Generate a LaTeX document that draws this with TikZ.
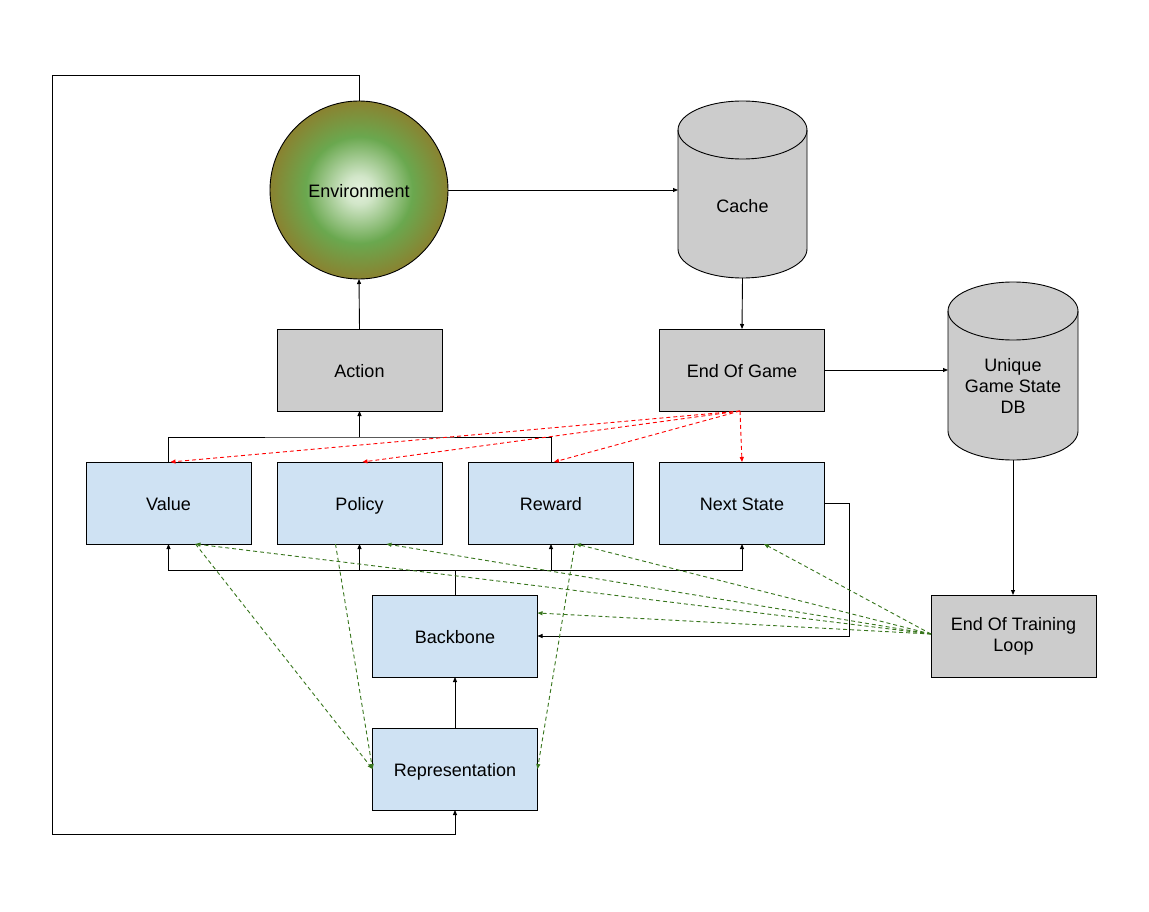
\documentclass[tikz,border=0pt]{standalone}
\usepackage{fontspec}
\setmainfont{Liberation Sans}
\usetikzlibrary{arrows.meta,calc}
\definecolor{boxblue}{HTML}{CFE2F3}
\definecolor{boxgray}{HTML}{CCCCCC}
\definecolor{dgreen}{HTML}{38761D}
\definecolor{envin}{HTML}{E4F1DE}
\definecolor{envmid}{HTML}{6AA84F}
\definecolor{envout}{HTML}{8A8230}
\pgfdeclareradialshading{envshade}{\pgfpoint{0bp}{0bp}}{color(0bp)=(envin); color(4bp)=(envin!85!envmid); color(15bp)=(envmid); color(25bp)=(envout); color(50bp)=(envout)}
\begin{document}
\begin{tikzpicture}[x=1pt,y=-1pt,
  font=\fontsize{18}{21}\selectfont,
  every node/.style={inner sep=0pt, outer sep=0pt},
  boxbase/.style={draw=black, line width=0.9pt, rectangle, minimum width=165pt, minimum height=82pt},
  oneline/.style={text height=19pt, text depth=4pt},
  bluebox/.style={boxbase, oneline, fill=boxblue},
  graybox/.style={boxbase, oneline, fill=boxgray},
  conn/.style={draw=black, line width=0.9pt},
  arr/.style={conn, -{Triangle[length=5pt,width=4pt]}},
  reddash/.style={draw=red, line width=0.9pt, dash pattern=on 4pt off 3pt, -{Triangle[length=5pt,width=4pt]}},
  greendash/.style={draw=dgreen, line width=0.9pt, dash pattern=on 4pt off 3pt, -{Triangle[length=5pt,width=4pt]}},
  cylfill/.style={fill=boxgray, draw=black, line width=0.9pt}
]
\fill[white] (0,0) rectangle (1149,912);
\useasboundingbox (0,0) rectangle (1149,912);

% Environment circle
\node[circle, draw=black, line width=0.9pt, minimum size=178pt, shading=envshade] (env) at (359,190) {};
\node at (359,191) {Environment};

% Cylinders drawn directly
\path[cylfill] (678,130) -- (678,249) arc[start angle=180, end angle=0, x radius=64.5, y radius=29] -- (807,130) arc[start angle=0, end angle=-180, x radius=64.5, y radius=29] -- cycle;
\draw[line width=0.9pt] (678,130) arc[start angle=180, end angle=0, x radius=64.5, y radius=29];
\node[minimum width=129pt, minimum height=177pt] (cache) at (742.5,189.5) {};
\node at (742.5,206) {Cache};

\path[cylfill] (948,311) -- (948,431) arc[start angle=180, end angle=0, x radius=65, y radius=29] -- (1078,311) arc[start angle=0, end angle=-180, x radius=65, y radius=29] -- cycle;
\draw[line width=0.9pt] (948,311) arc[start angle=180, end angle=0, x radius=65, y radius=29];
\node[minimum width=130pt, minimum height=178pt] (db) at (1013,371) {};
\node[align=center] at (1013,386) {Unique\\Game State\\DB};

% Boxes
\node[graybox] (action) at (359.5,370) {Action};
\node[graybox] (eog) at (742,370) {End Of Game};
\node[bluebox] (value) at (168.5,503) {Value};
\node[bluebox] (policy) at (359.5,503) {Policy};
\node[bluebox] (reward) at (551,503) {Reward};
\node[bluebox] (next) at (742,503) {Next State};
\node[bluebox] (backbone) at (455,636) {Backbone};
\node[bluebox] (repr) at (455,769) {Representation};
\node[boxbase, fill=boxgray, align=center] (eot) at (1013.5,636) {End Of Training\\Loop};

% Coordinates
\coordinate (lt) at (52,75);
\coordinate (lb) at (52,834);
\coordinate (vr) at (359.5,437);
\coordinate (bb) at (455,570);
\coordinate (nc) at (849,636);

% Black connectors
\draw[arr] (env.north) |- (lt) -- (lb) -| (repr.south);
\draw[arr] (env.east) -- (env.east -| cache.west);
\draw[arr] (cache.south) -- (eog.north);
\draw[arr] (action.north) -- (env.south);
\draw[arr] (eog.east) -- (eog.east -| db.west);
\draw[arr] (db.south) -- (db.south |- eot.north);
\draw[conn] (value.north) |- (vr) -| (reward.north);
\draw[arr] (vr) -- (action.south);
\draw[conn] (backbone.north) -- (bb);
\draw[arr] (bb) -| (value.south);
\draw[arr] (bb) -| (policy.south);
\draw[arr] (bb) -| (reward.south);
\draw[arr] (bb) -| (next.south);
\draw[arr] (repr.north) -- (backbone.south);
\draw[arr] (next.east) -| (nc) -- (backbone.east);

% Red dashed
\draw[reddash] ($(eog.south)+(-2,0)$) -- ($(value.north)+(2,0)$);
\draw[reddash] ($(eog.south)+(-2,0)$) -- ($(policy.north)+(3,0)$);
\draw[reddash] ($(eog.south)+(-2,0)$) -- ($(reward.north)+(3,0)$);
\draw[reddash] ($(eog.south)+(-2,0)$) -- ($(next.south |- next.north)$);

% Green dashed from End Of Training Loop
\draw[greendash] ($(eot.west)+(0,-2)$) -- ($(value.south)+(27,0)$);
\draw[greendash] ($(eot.west)+(0,-2)$) -- ($(policy.south)+(27,0)$);
\draw[greendash] ($(eot.west)+(0,-2)$) -- ($(reward.south)+(25,0)$);
\draw[greendash] ($(eot.west)+(0,-2)$) -- ($(next.south)+(22,0)$);
\draw[greendash] ($(eot.west)+(0,-2)$) -- ($(backbone.east)+(0,-23)$);

% Green dashed to Representation
\draw[greendash] ($(value.south)+(27,0)$) -- (repr.west);
\draw[greendash] ($(policy.south)+(-24,0)$) -- (repr.west);
\draw[greendash] ($(reward.south)+(24,0)$) -- (repr.east);
\end{tikzpicture}
\end{document}
